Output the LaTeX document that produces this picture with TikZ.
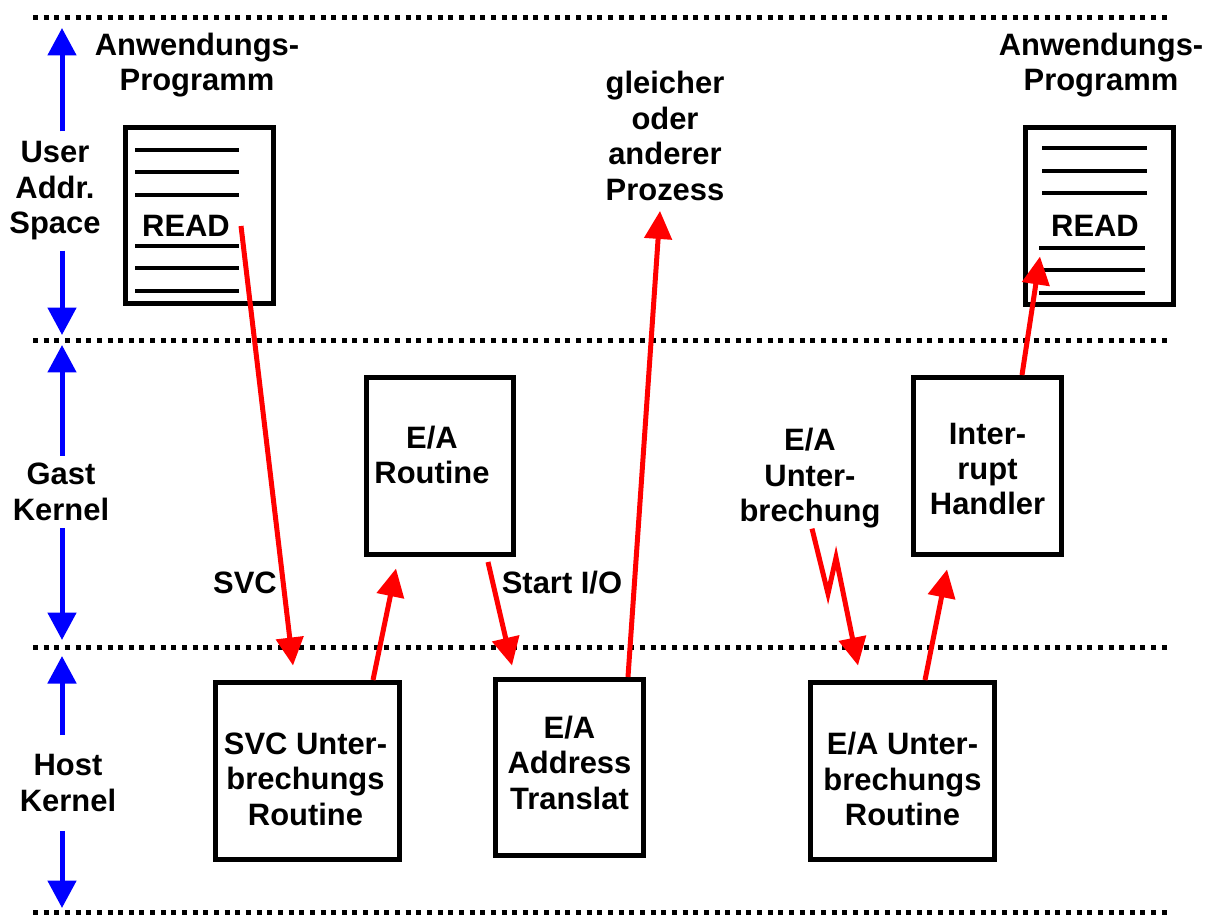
\documentclass[tikz,border=0pt]{standalone}
\usepackage{fontspec}
\setmainfont{Liberation Sans}
\usetikzlibrary{arrows.meta}

\tikzset{
	every node/.style={font=\fontsize{17.6}{20.2}\selectfont\bfseries, align=center},
	level/.style={line width=0.1cm, dash pattern=on 0.1cm off 0.113cm},
	axis/.style={blue, line width=0.1cm, -{Triangle[width=0.56cm,length=0.55cm]}},
	flow/.style={red, line width=0.1cm, -{Triangle[width=0.54cm,length=0.56cm]}},
	box/.style={draw, line width=0.1cm, minimum width=2.96cm, minimum height=3.54cm, inner sep=0},
	widebox/.style={box, minimum width=3.68cm},
	textline/.style={line width=0.09cm}
}

\begin{document}
\begin{tikzpicture}[x=0.02cm, y=-0.02cm]
		\useasboundingbox (0,0) rectangle (1212,915);
		% levels
		\foreach \y in {18,340,647,912}
			\draw[level] (33,\y) -- (1168,\y);
		% scale on the left
		\node[inner ysep=0.2cm] (user) at (55,191) {User\\Addr.\\Space};
		\node[inner ysep=0.14cm] (gast) at (61,492) {Gast\\Kernel};
		\node[inner ysep=0.38cm] (host) at (68,783) {Host\\Kernel};
		\coordinate (u1) at (62,28);
		\coordinate (u2) at (62,335);
		\coordinate (g1) at (62,345);
		\coordinate (g2) at (62,640);
		\coordinate (h1) at (62,656);
		\coordinate (h2) at (62,908);
		\draw[axis] (user.north -| u1) -- (u1);
		\draw[axis] (user.south -| u2) -- (u2);
		\draw[axis] (gast.north -| g1) -- (g1);
		\draw[axis] (gast.south -| g2) -- (g2);
		\draw[axis] (host.north -| h1) -- (h1);
		\draw[axis] (host.south -| h2) -- (h2);
		% programs
		\node (anwL) at (197,65) {Anwendungs-\\Programm};
		\node (anwR) at (1101,65) {Anwendungs-\\Programm};
		\node[box] (docL) at (199.5,215.5) {};
		\node[box] (docR) at (1099.5,216) {};
		\foreach \y in {150,172,195,246,268,291}
			\draw[textline] (135,\y) -- (239,\y);
		\foreach \y in {148,171,193}
			\draw[textline] (1042,\y) -- (1147,\y);
		\foreach \y in {248,270,293}
			\draw[textline] (1039,\y) -- (1145,\y);
		\node (readL) at (186,226) {READ};
		\node (readR) at (1095,226) {READ};
		\node[inner ysep=0.2cm] (prozess) at (665,136) {gleicher\\oder\\anderer\\Prozess};
		% guest kernel
		\node[box] (routine) at (440,466) {};
		\node[xshift=-0.16cm, yshift=0.22cm] (routinetxt) at (routine) {E/A\\Routine};
		\node[box] (handler) at (987.5,466) {};
		\node[yshift=-0.06cm] (handlertxt) at (handler) {Inter-\\rupt\\Handler};
		% host kernel
		\node[widebox] (svc) at (307.5,771) {};
		\node[xshift=-0.04cm, yshift=-0.16cm] (svctxt) at (svc) {SVC Unter-\\brechungs\\Routine};
		\node[box, minimum height=3.52cm] (addr) at (569.5,767.5) {};
		\node[yshift=0.1cm] (addrtxt) at (addr) {E/A\\Address\\Translat};
		\node[widebox] (eau) at (902.5,771) {};
		\node[yshift=-0.16cm] (eautxt) at (eau) {E/A Unter-\\brechungs\\Routine};
		% labels
		\node (svclbl) at (245,583) {SVC};
		\node (startio) at (562,583) {Start I/O};
		\node[anchor=north, inner sep=0] (eaint) at (810,428) {E/A\\Unter-\\brechung};
		% control flow
		\draw[flow] ([xshift=0.1cm]readL.east) -- ([xshift=-0.29cm,yshift=0.29cm]svc.north);
		\draw[flow] ([xshift=1.31cm]svc.north) -- ([xshift=-0.88cm,yshift=-0.23cm]routine.south);
		\draw[flow] ([xshift=0.96cm,yshift=-0.1cm]routine.south) -- ([xshift=-1.15cm,yshift=0.23cm]addr.north);
		\draw[flow] ([xshift=1.17cm]addr.north) -- ([xshift=-0.1cm]prozess.south);
		\draw[flow] ([xshift=0.04cm]eaint.south) -- ++(16,65) -- ++(8,-36) -- ([xshift=-0.89cm,yshift=0.29cm]eau.north);
		\draw[flow] ([xshift=0.45cm]eau.north) -- ([xshift=-0.81cm,yshift=-0.25cm]handler.south);
		\draw[flow] ([xshift=0.69cm]handler.north) -- ([xshift=-1.19cm,yshift=1.01cm]docR.south);
	\end{tikzpicture}
\end{document}
